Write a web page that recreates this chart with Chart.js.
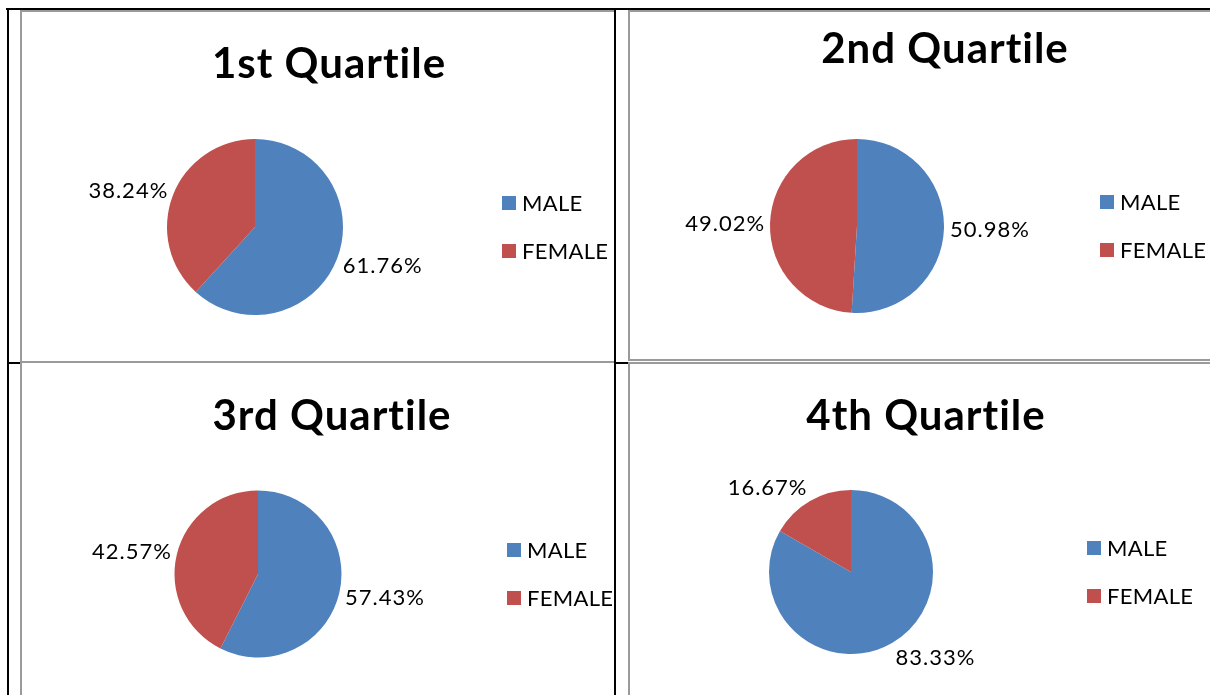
<!DOCTYPE html>
<html>
<head>
<meta charset="utf-8">
<title>Quartiles by gender</title>
<script src="https://cdn.jsdelivr.net/npm/chart.js@4.4.0/dist/chart.umd.min.js"></script>
<style>
  html, body { margin: 0; padding: 0; background: #fff; }
  body { width: 1210px; height: 695px; overflow: hidden; position: relative; }
  .line { position: absolute; background: #000; }
  .panel { position: absolute; box-sizing: border-box; border: 2px solid #9a9a9a; background: #fff; }
  canvas { position: absolute; }
</style>
</head>
<body>
<!-- table lines -->
<div class="line" style="left:6px;top:8px;width:1204px;height:2px"></div>
<div class="line" style="left:7px;top:8px;width:2px;height:687px"></div>
<div class="line" style="left:614px;top:8px;width:2px;height:687px"></div>
<div class="line" style="left:7px;top:362px;width:1203px;height:2px"></div>

<div class="panel" style="left:20px;top:10px;width:594px;height:353px;border-right:none"></div>
<div class="panel" style="left:628px;top:10px;width:600px;height:351px;border-right:none"></div>
<div class="panel" style="left:20px;top:361px;width:594px;height:350px;border-right:none;border-bottom:none"></div>
<div class="panel" style="left:628px;top:362px;width:600px;height:350px;border-right:none;border-bottom:none"></div>

<canvas id="q1" width="590" height="348" style="left:22px;top:12px"></canvas>
<canvas id="q2" width="580" height="346" style="left:630px;top:12px"></canvas>
<canvas id="q3" width="590" height="331" style="left:22px;top:364px"></canvas>
<canvas id="q4" width="580" height="331" style="left:630px;top:364px"></canvas>

<script>
// data
var labels = ['MALE', 'FEMALE'];
var titles = ['1st Quartile', '2nd Quartile', '3rd Quartile', '4th Quartile'];
var q1Values = [61.76, 38.24];
var q2Values = [50.98, 49.02];
var q3Values = [57.43, 42.57];
var q4Values = [83.33, 16.67];
var colors = ['#4F81BD', '#C0504D'];

// where each panel sits on the page
var layouts = [
  { id: 'q1', x: 22, y: 12, w: 590, h: 348, cx: 255, cy: 227, r: 88, titleX: 329, titleY: 78, legendX: 502, legendY: 203 },
  { id: 'q2', x: 630, y: 12, w: 580, h: 346, cx: 857, cy: 226, r: 87, titleX: 945, titleY: 63, legendX: 1100, legendY: 202 },
  { id: 'q3', x: 22, y: 364, w: 590, h: 331, cx: 258, cy: 574, r: 83.5, titleX: 332, titleY: 430, legendX: 507, legendY: 550 },
  { id: 'q4', x: 630, y: 364, w: 580, h: 331, cx: 851, cy: 572, r: 82, titleX: 926, titleY: 430, legendX: 1087, legendY: 548 }
];
var allValues = [q1Values, q2Values, q3Values, q4Values];

// title, legend and outside labels drawn like the Excel chart
var panelDecor = {
  id: 'panelDecor',
  afterDraw: function(chart, args, opts) {
    var ctx = chart.ctx;
    var L = opts.layout;
    ctx.save();
    ctx.fillStyle = '#000';

    // letter spacing also stops the "ti" ligature
    ctx.font = 'bold 42px Lato';
    ctx.letterSpacing = '1px';
    ctx.textAlign = 'center';
    ctx.textBaseline = 'alphabetic';
    ctx.fillText(opts.title, L.titleX - L.x, L.titleY - L.y);

    ctx.font = '22px Lato';
    ctx.letterSpacing = '0.3px';
    ctx.textBaseline = 'middle';
    var ds = chart.data.datasets[0];
    chart.data.labels.forEach(function(lab, i) {
      var ly = L.legendY - L.y + i * 48;
      var lx = L.legendX - L.x;
      ctx.fillStyle = ds.backgroundColor[i];
      ctx.fillRect(lx, ly - 7, 14, 14);
      ctx.fillStyle = '#000';
      ctx.textAlign = 'left';
      ctx.fillText(lab, lx + 20, ly + 1);
    });

    ctx.letterSpacing = '1px';
    var meta = chart.getDatasetMeta(0);
    meta.data.forEach(function(arc, i) {
      var p = arc.getProps(['x', 'y', 'startAngle', 'endAngle', 'outerRadius'], true);
      var mid = (p.startAngle + p.endAngle) / 2;
      var dx = Math.cos(mid), dy = Math.sin(mid);
      var px = p.x + (p.outerRadius + 5) * dx;
      var py = p.y + (p.outerRadius + 5) * dy;
      ctx.textAlign = dx >= 0 ? 'left' : 'right';
      ctx.fillText(ds.data[i].toFixed(2) + '%', px + (dx >= 0 ? 1 : 0), py + dy * 11 + 1);
    });
    ctx.restore();
  }
};

layouts.forEach(function(L, k) {
  var ctx = document.getElementById(L.id).getContext('2d');
  new Chart(ctx, {
    type: 'pie',
    data: {
      labels: labels,
      datasets: [{
        data: allValues[k],
        backgroundColor: colors,
        borderWidth: 0
      }]
    },
    options: {
      responsive: false,
      animation: false,
      layout: {
        padding: {
          left: L.cx - L.r - L.x,
          top: L.cy - L.r - L.y,
          right: L.w - (L.cx + L.r - L.x),
          bottom: L.h - (L.cy + L.r - L.y)
        }
      },
      plugins: {
        legend: { display: false },
        title: { display: false },
        tooltip: { enabled: false },
        panelDecor: { layout: L, title: titles[k] }
      }
    },
    plugins: [panelDecor]
  });
});
</script>
</body>
</html>
